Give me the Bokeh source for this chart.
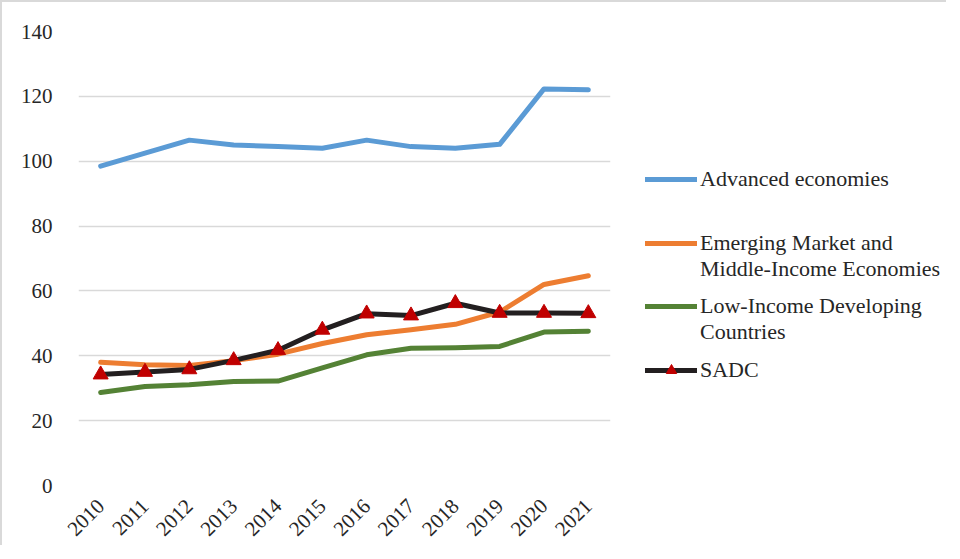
import math
from bokeh.plotting import figure
from bokeh.layouts import row
from bokeh.models import Range1d, FixedTicker, Legend, LegendItem
from bokeh.embed import file_html
from bokeh.resources import INLINE

years = ["2010", "2011", "2012", "2013", "2014", "2015", "2016", "2017", "2018", "2019", "2020", "2021"]
advanced = [98.5, 102.5, 106.5, 105.0, 104.5, 104.0, 106.5, 104.5, 104.0, 105.2, 122.3, 122.0]
emerging = [38.0, 37.2, 37.0, 38.5, 40.5, 43.8, 46.5, 48.0, 49.7, 53.5, 62.0, 64.7]
low_income = [28.7, 30.5, 31.1, 32.1, 32.2, 36.3, 40.3, 42.3, 42.5, 42.9, 47.3, 47.6]
sadc = [34.2, 35.0, 35.8, 38.6, 41.7, 48.0, 53.0, 52.4, 56.2, 53.2, 53.2, 53.1]
y_ticks = [0, 20, 40, 60, 80, 100, 120, 140]

legend_lines = [["Advanced economies"],
                ["Emerging Market and", "Middle-Income Economies"],
                ["Low-Income Developing", "Countries"],
                ["SADC"]]
colors = ["#5B9BD5", "#ED7D31", "#548235", "#231F20"]
marker_color = "#C00000"

FONT = "Liberation Serif"
TXT = "#262626"
BORDER = "2px solid #d9d9d9"

# ---- main chart ----
p = figure(x_range=years, y_range=Range1d(0, 140),
           frame_width=530, frame_height=452,
           output_backend="svg", toolbar_location=None,
           min_border_left=76, min_border_right=22, min_border_top=29, min_border_bottom=62)
p.styles = {"border-left": BORDER, "border-top": BORDER}
p.outline_line_color = None
p.x_range.range_padding = 0

p.yaxis.ticker = FixedTicker(ticks=y_ticks)
p.yaxis.axis_line_color = None
p.yaxis.major_tick_line_color = None
p.yaxis.minor_tick_line_color = None
p.yaxis.major_label_standoff = 20
p.yaxis.major_label_text_font = FONT
p.yaxis.major_label_text_font_size = "21px"
p.yaxis.major_label_text_color = TXT

p.xaxis.axis_line_color = None
p.xaxis.major_tick_line_color = None
p.xaxis.minor_tick_line_color = None
p.xaxis.major_label_orientation = math.pi / 4
p.xaxis.major_label_standoff = 11
p.xaxis.major_label_text_font = FONT
p.xaxis.major_label_text_font_size = "21px"
p.xaxis.major_label_text_color = TXT

p.xgrid.grid_line_color = None
p.ygrid.grid_line_color = "#d9d9d9"
p.ygrid.grid_line_width = 1.5

kw = dict(line_width=5, line_cap="round", line_join="round")
p.line(years, advanced, line_color=colors[0], **kw)
p.line(years, emerging, line_color=colors[1], **kw)
p.line(years, low_income, line_color=colors[2], **kw)
p.line(years, sadc, line_color=colors[3], **kw)
p.scatter(years, sadc, marker="triangle", size=15, fill_color=marker_color, line_color=marker_color)

# ---- legend panel ----
q = figure(x_range=Range1d(0, 1), y_range=Range1d(0, 1), width=316, height=543,
           output_backend="svg", toolbar_location=None,
           min_border=0, min_border_left=0, min_border_right=0, min_border_top=0, min_border_bottom=0)
q.styles = {"border-top": BORDER}
q.grid.visible = False
q.outline_line_color = None
q.xaxis.visible = False
q.yaxis.visible = False

# legend swatches only (placed outside the visible range of this panel)
ox, oy = [5, 6], [5, 5]
lkw = dict(line_width=5, line_cap="round")
g_adv = q.line(ox, oy, line_color=colors[0], **lkw)
g_emg = q.line(ox, oy, line_color=colors[1], **lkw)
g_low = q.line(ox, oy, line_color=colors[2], **lkw)
g_sadc = q.line(ox, oy, line_color=colors[3], **lkw)
g_tri = q.scatter(ox, oy, marker="triangle", size=15, fill_color=marker_color, line_color=marker_color)
g_blank = q.line(ox, oy, line_alpha=0)

groups = [[g_adv], [g_emg], [g_low], [g_sadc, g_tri]]
offsets = [291, 201, 138, 100]  # legend bottoms, px above the panel bottom
for lines, rends, off in zip(legend_lines, groups, offsets):
    items = [LegendItem(label=lines[0], renderers=rends)]
    for extra in lines[1:]:
        items.append(LegendItem(label=extra, renderers=[g_blank]))
    lg = Legend(items=items, location=(15, off))
    lg.border_line_color = None
    lg.background_fill_alpha = 0
    lg.margin = 0
    lg.padding = 0
    lg.spacing = 0
    lg.glyph_width = 52
    lg.glyph_height = 26
    lg.label_height = 26
    lg.label_standoff = 3
    lg.label_text_font = FONT
    lg.label_text_font_size = "22px"
    lg.label_text_color = TXT
    q.add_layout(lg, "center")

layout = row(p, q, spacing=0)
open("out.html", "w").write(file_html(layout, INLINE))
